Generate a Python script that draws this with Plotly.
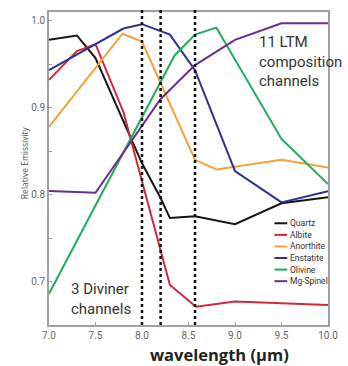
import plotly.graph_objects as go

# Relative emissivity spectra of lunar minerals (wavelength in µm)
quartz_x = [7.0, 7.3, 7.5, 7.87, 8.0, 8.2, 8.3, 8.57, 9.0, 9.5, 10.0]
quartz_y = [0.978, 0.983, 0.957, 0.868, 0.836, 0.796, 0.773, 0.775, 0.766, 0.790, 0.797]

albite_x = [7.0, 7.3, 7.5, 7.8, 8.3, 8.58, 9.0, 10.0]
albite_y = [0.932, 0.965, 0.973, 0.895, 0.696, 0.671, 0.677, 0.673]

anorthite_x = [7.0, 7.79, 8.0, 8.57, 8.8, 9.5, 10.0]
anorthite_y = [0.878, 0.985, 0.976, 0.840, 0.829, 0.840, 0.831]

enstatite_x = [7.0, 7.8, 8.0, 8.3, 8.57, 9.0, 9.5, 10.0]
enstatite_y = [0.943, 0.991, 0.996, 0.984, 0.943, 0.827, 0.791, 0.804]

olivine_x = [7.0, 8.2, 8.35, 8.57, 8.8, 9.5, 10.0]
olivine_y = [0.686, 0.930, 0.960, 0.984, 0.992, 0.864, 0.812]

spinel_x = [7.0, 7.5, 8.2, 8.57, 9.0, 9.5, 10.0]
spinel_y = [0.804, 0.802, 0.910, 0.949, 0.978, 0.997, 0.997]

series_names = ["Quartz", "Albite", "Anorthite", "Enstatite", "Olivine", "Mg-Spinel"]
series_colors = ["#151515", "#d0283a", "#f5a23a", "#2e3192", "#22ad5c", "#6a2d91"]
series_x = [quartz_x, albite_x, anorthite_x, enstatite_x, olivine_x, spinel_x]
series_y = [quartz_y, albite_y, anorthite_y, enstatite_y, olivine_y, spinel_y]

# Diviner channel positions (µm)
diviner_channels = [8.0, 8.2, 8.57]

x_ticks = [7.0, 7.5, 8.0, 8.5, 9.0, 9.5, 10.0]
y_ticks = [0.7, 0.8, 0.9, 1.0]

TICK_FONT = "Liberation Sans Narrow, Arial Narrow, Roboto, sans-serif"

fig = go.Figure()

for name, color, xs, ys in zip(series_names, series_colors, series_x, series_y):
    fig.add_trace(go.Scatter(
        x=xs, y=ys, mode="lines", name=name,
        line=dict(color=color, width=2),
        showlegend=False,
    ))

for ch in diviner_channels:
    fig.add_shape(type="line", xref="x", yref="paper", x0=ch, x1=ch, y0=0, y1=1.01,
                  line=dict(color="#111111", width=2.5, dash="dot"))

# Compact legend in the lower-right corner
leg_x0, leg_y0, leg_dy = 0.808, 0.325, 0.037
for i, (name, color) in enumerate(zip(series_names, series_colors)):
    yy = leg_y0 - i * leg_dy
    fig.add_shape(type="line", xref="paper", yref="paper",
                  x0=leg_x0, x1=leg_x0 + 0.046, y0=yy, y1=yy,
                  line=dict(color=color, width=2))
    fig.add_annotation(xref="paper", yref="paper", x=leg_x0 + 0.05, y=yy,
                       text=name, showarrow=False, xanchor="left", yanchor="middle",
                       font=dict(family=TICK_FONT, size=8.5, color="#333333"))

fig.add_annotation(xref="paper", yref="paper", x=0.745, y=0.94,
                   text="11 LTM<br>composition<br>channels", showarrow=False,
                   xanchor="left", yanchor="top", align="left",
                   font=dict(family=TICK_FONT, size=15, color="#333333"))

fig.add_annotation(xref="paper", yref="paper", x=0.30, y=0.15,
                   text="3 Diviner<br>channels", showarrow=False,
                   xanchor="right", yanchor="top", align="left",
                   font=dict(family=TICK_FONT, size=15, color="#333333"))

fig.add_annotation(xref="paper", yref="paper", x=0.61, y=-0.094,
                   text="<b>wavelength (µm)</b>", showarrow=False,
                   xanchor="center", yanchor="middle",
                   font=dict(family="Open Sans, sans-serif", size=16.5, color="#222222"))

fig.add_annotation(xref="paper", yref="paper", x=-0.09, y=0.52,
                   text="Relative Emissivity", showarrow=False, textangle=-90,
                   xanchor="center", yanchor="middle",
                   font=dict(family="Open Sans, sans-serif", size=8.5, color="#555555"))

axis_common = dict(
    showgrid=False, zeroline=False, showline=True, linecolor="#a0a0a0", linewidth=1.5,
    mirror=True, ticks="inside", ticklen=3, tickcolor="#a0a0a0",
    tickfont=dict(family=TICK_FONT, size=10, color="#666666"),
)

fig.update_xaxes(range=[7.0, 10.0], tickvals=x_ticks,
                 ticktext=[f"{v:.1f}" for v in x_ticks], **axis_common)
fig.update_yaxes(range=[0.65, 1.01], tickvals=y_ticks,
                 ticktext=[f"{v:.1f}" for v in y_ticks],
                 minor=dict(tickvals=[0.75, 0.85, 0.95], ticks="inside", ticklen=3,
                            tickcolor="#a0a0a0"),
                 **axis_common)

fig.update_layout(
    width=348, height=366,
    margin=dict(l=49, r=19, t=10, b=41),
    paper_bgcolor="white", plot_bgcolor="white",
    showlegend=False,
)

fig.write_html("out.html")
